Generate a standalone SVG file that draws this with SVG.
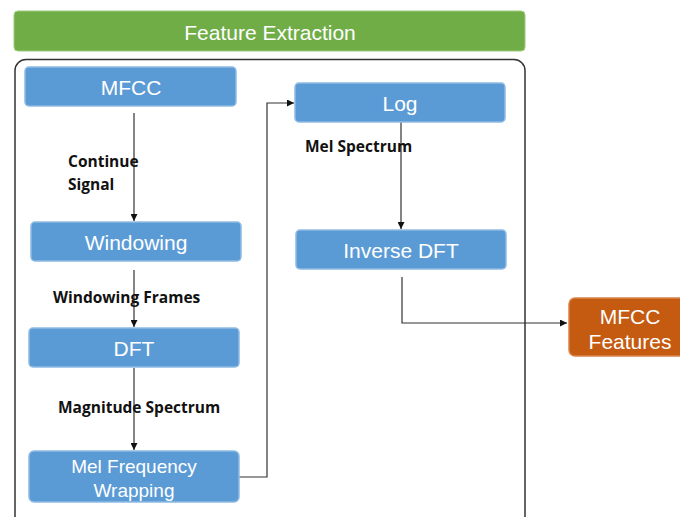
<svg xmlns="http://www.w3.org/2000/svg" width="680" height="517" viewBox="0 0 680 517">
<style>
.box{fill:#5b9bd5;stroke:#8fbbe3;stroke-width:1.5}
.bt{font-family:"Liberation Sans",Arial,sans-serif;font-size:21px;fill:#fff;text-anchor:middle;dominant-baseline:central}
.sm{font-size:19px}
.lb{font-family:"Open Sans","Liberation Sans",sans-serif;font-weight:bold;font-size:15.5px;fill:#111}
.cn{fill:none;stroke:#333;stroke-width:1.2}
</style>
<defs>
<marker id="ah" viewBox="0 0 10 10" refX="10" refY="5" markerWidth="7" markerHeight="7" orient="auto" markerUnits="userSpaceOnUse"><path d="M0,0L10,5L0,10z" fill="#111"/></marker>
</defs>
<rect width="680" height="517" fill="#fff"/>
<g id="header">
<rect x="14" y="11" width="511" height="40" rx="4" fill="#70ad47" stroke="#9ccc7e" stroke-width="1"/>
<text class="bt" x="270" y="32">Feature Extraction</text>
</g>
<g id="container">
<rect x="15" y="59.5" width="510" height="470" rx="11" fill="none" stroke="#333" stroke-width="1.5"/>
</g>
<g id="connectors">
<line class="cn" x1="134" y1="113" x2="134" y2="221" marker-end="url(#ah)"/>
<line class="cn" x1="134" y1="270" x2="134" y2="327" marker-end="url(#ah)"/>
<line class="cn" x1="134" y1="368" x2="134" y2="450" marker-end="url(#ah)"/>
<polyline class="cn" points="239,477 267,477 267,103 294,103" marker-end="url(#ah)"/>
<line class="cn" x1="401" y1="122" x2="401" y2="229" marker-end="url(#ah)"/>
<polyline class="cn" points="402,277 402,323 567,323" marker-end="url(#ah)"/>
</g>
<g id="labels">
<text class="lb" x="68" y="167">Continue</text>
<text class="lb" x="68" y="190">Signal</text>
<text class="lb" x="53" y="303">Windowing Frames</text>
<text class="lb" x="58" y="413">Magnitude Spectrum</text>
<text class="lb" x="305" y="152">Mel Spectrum</text>
</g>
<g id="mfcc"><rect class="box" x="25" y="67" width="211" height="39" rx="4"/><text class="bt" x="131" y="87">MFCC</text></g>
<g id="windowing"><rect class="box" x="31" y="222" width="210" height="39" rx="4"/><text class="bt" x="136" y="242">Windowing</text></g>
<g id="dft"><rect class="box" x="29" y="328" width="210" height="39" rx="4"/><text class="bt" x="134" y="348">DFT</text></g>
<g id="mel"><rect class="box" x="29" y="451" width="210" height="51" rx="5"/><text class="bt sm" x="134" y="466">Mel Frequency</text><text class="bt sm" x="134" y="490">Wrapping</text></g>
<g id="log"><rect class="box" x="295" y="83" width="210" height="39" rx="4"/><text class="bt" x="400" y="103">Log</text></g>
<g id="idft"><rect class="box" x="296" y="230" width="210" height="39" rx="4"/><text class="bt" x="401" y="250">Inverse DFT</text></g>
<g id="features"><rect x="569" y="298" width="116" height="58" rx="6" fill="#c55a11" stroke="#d9844b" stroke-width="1.5"/><text class="bt" x="630" y="316">MFCC</text><text class="bt" x="630" y="341">Features</text></g>
</svg>
